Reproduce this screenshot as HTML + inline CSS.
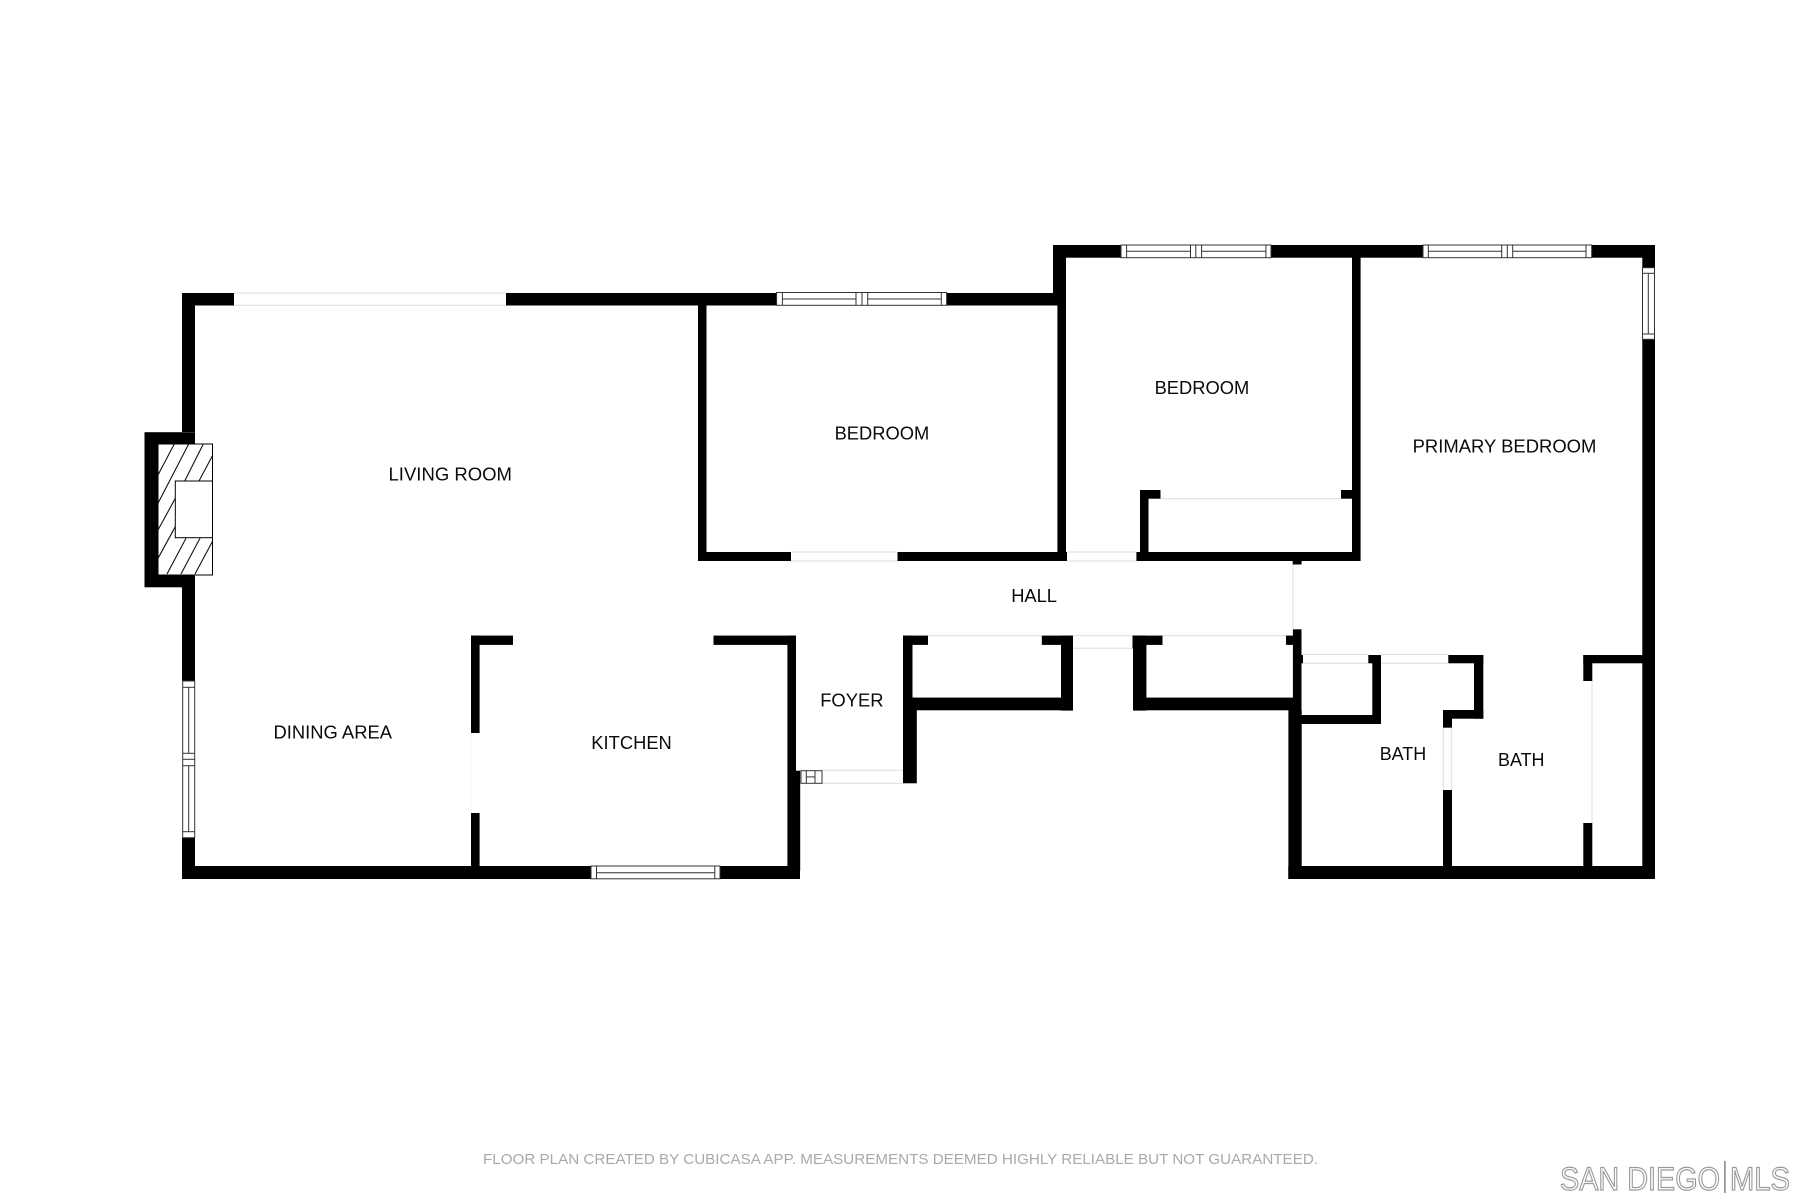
<!DOCTYPE html>
<html><head><meta charset="utf-8"><style>
html,body{margin:0;padding:0;background:#fff}
svg{display:block}
text{font-family:"Liberation Sans",sans-serif;fill:#0a0a0a;font-size:18.5px}
.w rect{fill:#000}
.g line{stroke:#dedede;stroke-width:1}
.t line,.t rect{stroke:#333;stroke-width:1}
.t rect{fill:#fff}
.h line{stroke:#111;stroke-width:1.1}
</style></head><body>
<svg width="1800" height="1200" viewBox="0 0 1800 1200" xmlns="http://www.w3.org/2000/svg">
<rect width="1800" height="1200" fill="#fff"/>
<g class="w">
<!-- living room / top walls -->
<rect x="182" y="293" width="52" height="12.5"/>
<rect x="506" y="293" width="271" height="12.5"/>
<rect x="947" y="293" width="119" height="12.5"/>
<rect x="182" y="293" width="13" height="139"/>
<rect x="144.5" y="432.2" width="50.5" height="155.1"/>
<rect x="182" y="587" width="13" height="94"/>
<rect x="182" y="838" width="13" height="41"/>
<rect x="182" y="866" width="409" height="13"/>
<rect x="720" y="866" width="80" height="13"/>
<!-- bedroom 1 -->
<rect x="698" y="305" width="8.5" height="256"/>
<rect x="698" y="552" width="93" height="9"/>
<rect x="897.5" y="552" width="169.5" height="9"/>
<rect x="1136.4" y="552" width="224" height="9"/>
<rect x="1057.4" y="305" width="8.6" height="247"/>
<rect x="1053" y="245" width="13" height="60"/>
<!-- upper wall -->
<rect x="1053" y="245" width="68" height="12.7"/>
<rect x="1271" y="245" width="152" height="12.7"/>
<rect x="1592" y="245" width="63" height="12.7"/>
<rect x="1352" y="257" width="8.6" height="304"/>
<!-- closet in bedroom 2 -->
<rect x="1140" y="490" width="8.5" height="62"/>
<rect x="1140" y="490" width="20.5" height="8.7"/>
<rect x="1341" y="490" width="11" height="8.7"/>
<rect x="1292.7" y="561" width="8.9" height="3.5"/>
<!-- right wall -->
<rect x="1642.3" y="245" width="12.7" height="23"/>
<rect x="1642.3" y="339" width="12.7" height="540"/>
<rect x="1288.3" y="866" width="366.7" height="13"/>
<!-- kitchen -->
<rect x="471" y="635.6" width="8.6" height="97.4"/>
<rect x="471" y="813" width="8.6" height="53"/>
<rect x="471" y="635.6" width="42" height="9.3"/>
<rect x="713.5" y="635.6" width="82.5" height="9.3"/>
<rect x="787.4" y="635.6" width="8.6" height="135.4"/>
<rect x="787.4" y="770.7" width="12.8" height="100"/>
<!-- foyer / closet 1 -->
<rect x="903" y="635.6" width="9.5" height="75"/>
<rect x="903" y="697.6" width="170" height="12.7"/>
<rect x="903" y="697.6" width="13.8" height="85.7"/>
<rect x="903" y="635.6" width="25" height="9.3"/>
<rect x="1041.8" y="635.6" width="31.2" height="9.3"/>
<rect x="1061" y="635.6" width="12" height="75"/>
<!-- closet 2 -->
<rect x="1133" y="635.6" width="13.4" height="75"/>
<rect x="1132.5" y="635.6" width="30" height="9.3"/>
<rect x="1132.5" y="635.6" width="13.5" height="13"/>
<rect x="1133" y="697.6" width="168" height="12.7"/>
<rect x="1286" y="635.6" width="15.4" height="9.3"/>
<rect x="1292.9" y="629.3" width="8.6" height="90"/>
<rect x="1301" y="655" width="2" height="8.3"/>
<rect x="1288.4" y="710" width="13.3" height="169"/>
<!-- baths -->
<rect x="1300" y="715" width="81" height="9"/>
<rect x="1372.3" y="655" width="8.7" height="69"/>
<rect x="1368.3" y="655" width="12.7" height="8.3"/>
<rect x="1448.3" y="655" width="35" height="8.3"/>
<rect x="1474" y="655" width="9.3" height="63.7"/>
<rect x="1443" y="710" width="40.3" height="8.7"/>
<rect x="1443" y="710" width="9" height="17.7"/>
<rect x="1443" y="790" width="9" height="77"/>
<rect x="1583.3" y="655" width="9" height="26"/>
<rect x="1583.3" y="655" width="60" height="8.3"/>
<rect x="1583.3" y="823" width="9" height="44"/>
</g>
<!-- faint opening lines -->
<g class="g">
<line x1="234" y1="293" x2="506" y2="293"/><line x1="234" y1="305.3" x2="506" y2="305.3"/>
<line x1="791" y1="552" x2="897.5" y2="552"/><line x1="791" y1="561" x2="897.5" y2="561"/>
<line x1="1067" y1="552" x2="1136.4" y2="552"/><line x1="1067" y1="561" x2="1136.4" y2="561"/>
<line x1="1160.5" y1="498.7" x2="1341" y2="498.7"/>
<line x1="1293" y1="564.5" x2="1293" y2="629.3"/>
<line x1="928" y1="635.6" x2="1041.8" y2="635.6"/>
<line x1="1162.5" y1="635.6" x2="1286" y2="635.6"/>
<line x1="1073" y1="635.6" x2="1132.5" y2="635.6"/><line x1="1073" y1="648.3" x2="1132.5" y2="648.3"/>
<line x1="822" y1="770.3" x2="903" y2="770.3"/><line x1="822" y1="783.3" x2="903" y2="783.3"/>
<line x1="1303" y1="654.5" x2="1368" y2="654.5"/><line x1="1303" y1="663.3" x2="1368" y2="663.3"/>
<line x1="1381" y1="654.5" x2="1448.3" y2="654.5"/><line x1="1381" y1="663.3" x2="1448.3" y2="663.3"/>
<line x1="1443.3" y1="727.7" x2="1443.3" y2="790"/><line x1="1451.7" y1="727.7" x2="1451.7" y2="790"/>
<line x1="1592" y1="681" x2="1592" y2="823" stroke="#e6e6e6"/>
<line x1="471" y1="733" x2="471" y2="813" style="stroke:#f3f3f3"/>
</g>
<!-- windows -->
<g class="t">
<rect x="776.6" y="292.5" width="170" height="12.8"/>
<line x1="782.4" y1="293" x2="782.4" y2="305"/><line x1="941.3" y1="293" x2="941.3" y2="305"/>
<line x1="856" y1="293" x2="856" y2="305"/><line x1="862" y1="293" x2="862" y2="305"/><line x1="867.7" y1="293" x2="867.7" y2="305"/>
<line x1="782.4" y1="299" x2="856" y2="299"/><line x1="867.7" y1="299" x2="941.3" y2="299"/>

<rect x="1121" y="245" width="150" height="12.7"/>
<line x1="1126.6" y1="245" x2="1126.6" y2="257.7"/><line x1="1265.9" y1="245" x2="1265.9" y2="257.7"/>
<line x1="1190.5" y1="245" x2="1190.5" y2="257.7"/><line x1="1195.8" y1="245" x2="1195.8" y2="257.7"/><line x1="1201.6" y1="245" x2="1201.6" y2="257.7"/>
<line x1="1126.6" y1="251.3" x2="1190.5" y2="251.3"/><line x1="1201.6" y1="251.3" x2="1265.9" y2="251.3"/>

<rect x="1423" y="245" width="168.7" height="12.7"/>
<line x1="1428.3" y1="245" x2="1428.3" y2="257.7"/><line x1="1586" y1="245" x2="1586" y2="257.7"/>
<line x1="1501.7" y1="245" x2="1501.7" y2="257.7"/><line x1="1507.3" y1="245" x2="1507.3" y2="257.7"/><line x1="1512.7" y1="245" x2="1512.7" y2="257.7"/>
<line x1="1428.3" y1="251.3" x2="1501.7" y2="251.3"/><line x1="1512.7" y1="251.3" x2="1586" y2="251.3"/>

<rect x="1642.5" y="267.7" width="12" height="71.6"/>
<line x1="1642.5" y1="273.3" x2="1654.5" y2="273.3"/><line x1="1642.5" y1="334" x2="1654.5" y2="334"/>
<line x1="1648.3" y1="273.3" x2="1648.3" y2="334"/>

<rect x="182.7" y="681" width="12" height="156.7"/>
<line x1="182.7" y1="687.3" x2="194.7" y2="687.3"/><line x1="182.7" y1="753.3" x2="194.7" y2="753.3"/><line x1="182.7" y1="759.3" x2="194.7" y2="759.3"/><line x1="182.7" y1="765.7" x2="194.7" y2="765.7"/><line x1="182.7" y1="831.7" x2="194.7" y2="831.7"/>
<line x1="188.7" y1="687.3" x2="188.7" y2="753.3"/><line x1="188.7" y1="765.7" x2="188.7" y2="831.7"/>

<rect x="591" y="866" width="129" height="12.8"/>
<line x1="596.5" y1="866" x2="596.5" y2="878.8"/><line x1="714.8" y1="866" x2="714.8" y2="878.8"/>
<line x1="596.5" y1="872.7" x2="714.8" y2="872.7"/>

<rect x="801" y="770.7" width="21" height="12.6"/>
<line x1="806.3" y1="770.7" x2="806.3" y2="783.3"/><line x1="815" y1="770.7" x2="815" y2="783.3"/>
<line x1="806.3" y1="776.9" x2="815" y2="776.9"/>
</g>
<!-- fireplace -->
<rect x="158" y="444" width="54.5" height="131" fill="#fff" stroke="#000" stroke-width="1"/>
<g class="h">
<line x1="158" y1="475" x2="174.3" y2="444"/>
<line x1="158" y1="503.3" x2="188.7" y2="444"/>
<line x1="184.7" y1="481" x2="203.3" y2="444"/>
<line x1="199" y1="481" x2="212.3" y2="456"/>
<line x1="158" y1="530" x2="175.3" y2="498.3"/>
<line x1="158" y1="558.3" x2="175.3" y2="526.7"/>
<line x1="167" y1="574" x2="186" y2="538.3"/>
<line x1="181" y1="574" x2="200" y2="538.3"/>
<line x1="195" y1="574" x2="212.3" y2="541.7"/>
</g>
<rect x="175.3" y="481" width="37.2" height="56.7" fill="#fff" stroke="#000" stroke-width="1"/>
<!-- labels -->
<text x="388.5" y="480.7" textLength="123.5" lengthAdjust="spacingAndGlyphs">LIVING ROOM</text>
<text x="273.5" y="738.7" textLength="118.5" lengthAdjust="spacingAndGlyphs">DINING AREA</text>
<text x="591.3" y="749" textLength="80.5" lengthAdjust="spacingAndGlyphs">KITCHEN</text>
<text x="820.2" y="706.7" textLength="63.4" lengthAdjust="spacingAndGlyphs">FOYER</text>
<text x="1011.2" y="602" textLength="45.8" lengthAdjust="spacingAndGlyphs">HALL</text>
<text x="834.6" y="439.7" textLength="94.6" lengthAdjust="spacingAndGlyphs">BEDROOM</text>
<text x="1154.6" y="394" textLength="94.6" lengthAdjust="spacingAndGlyphs">BEDROOM</text>
<text x="1412.6" y="452.7" textLength="183.8" lengthAdjust="spacingAndGlyphs">PRIMARY BEDROOM</text>
<text x="1379.7" y="760" textLength="46.5" lengthAdjust="spacingAndGlyphs">BATH</text>
<text x="1498" y="766" textLength="46.5" lengthAdjust="spacingAndGlyphs">BATH</text>
<!-- footer -->
<text x="483" y="1164" textLength="835" lengthAdjust="spacingAndGlyphs" style="font-size:14.5px;fill:#a9a9a9">FLOOR PLAN CREATED BY CUBICASA APP. MEASUREMENTS DEEMED HIGHLY RELIABLE BUT NOT GUARANTEED.</text>
<text x="1560" y="1190" textLength="160" lengthAdjust="spacingAndGlyphs" style="font-size:32px;fill:#fff;stroke:#9a9a9a;stroke-width:1.2">SAN DIEGO</text>
<rect x="1724" y="1161" width="1.8" height="32" fill="#999"/>
<text x="1730" y="1190" textLength="60" lengthAdjust="spacingAndGlyphs" style="font-size:32px;fill:#fff;stroke:#9a9a9a;stroke-width:1.2">MLS</text>
</svg>
</body></html>
